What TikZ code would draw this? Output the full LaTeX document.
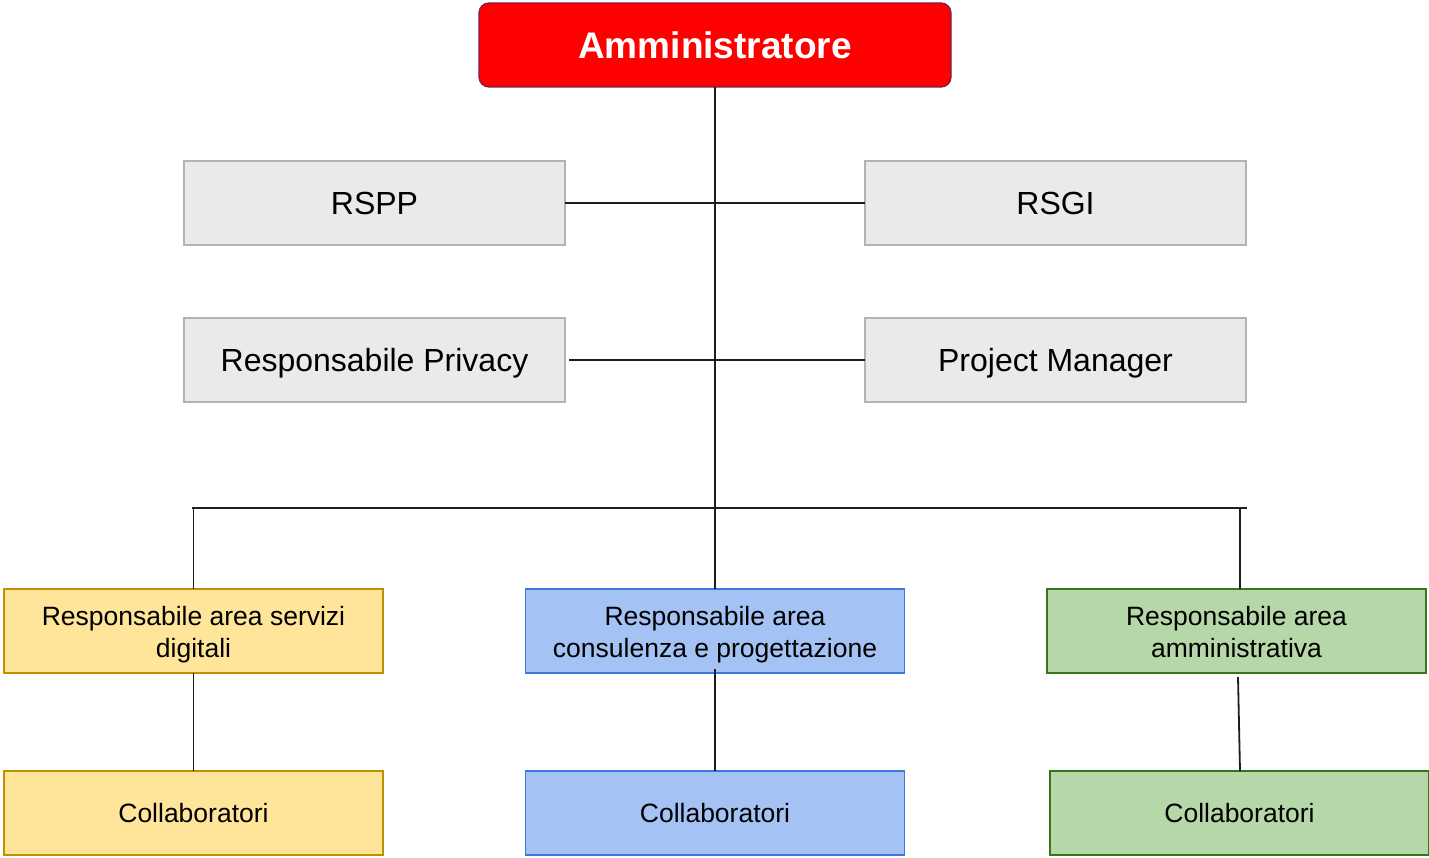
\documentclass[tikz,border=0pt]{standalone}
\usepackage{fontspec}
\setmainfont{Liberation Sans}
\begin{document}
\begin{tikzpicture}[x=1pt,y=-1pt,
  box/.style={draw, line width=1.3pt, inner sep=0pt, outer sep=0pt, minimum width=381pt, minimum height=84pt, align=center, text=black},
  graybox/.style={box, fill=grayfill, draw=grayline, font=\fontsize{32}{38}\selectfont, text height=22.9pt, text depth=0pt},
  areabox/.style={box, minimum width=379pt, font=\fontsize{26.5}{32}\selectfont},
  twoline/.style={text height=52pt, text depth=0pt},
  oneline/.style={text height=19pt, text depth=0pt},
  yel/.style={areabox, fill=yelfill, draw=yelline},
  blu/.style={areabox, fill=blufill, draw=bluline},
  grn/.style={areabox, fill=grnfill, draw=grnline},
  conn/.style={draw=linecol, line width=1.8pt}
]
\definecolor{grayfill}{HTML}{EAEAEA}
\definecolor{grayline}{HTML}{B3B3B3}
\definecolor{yelfill}{HTML}{FFE599}
\definecolor{yelline}{HTML}{BF9000}
\definecolor{blufill}{HTML}{A4C2F4}
\definecolor{bluline}{HTML}{3C78D8}
\definecolor{grnfill}{HTML}{B6D7A8}
\definecolor{grnline}{HTML}{38761D}
\definecolor{adminline}{HTML}{7A1F4A}
\definecolor{linecol}{HTML}{1E1E1E}
\useasboundingbox (0,0) rectangle (1429,858);

\node[box, fill=red, draw=adminline, rounded corners=10pt, minimum width=472pt, minimum height=84pt, text=white, font=\bfseries\fontsize{37}{44}\selectfont, text height=26.5pt, text depth=0pt] (admin) at (715,45) {Amministratore};

\node[graybox] (rspp) at (374.5,203) {RSPP};
\node[graybox] (rsgi) at (1055.5,203) {RSGI};
\node[graybox] (priv) at (374.5,360) {Responsabile Privacy};
\node[graybox] (pm) at (1055.5,360) {Project Manager};

\node[yel, twoline] (ry) at (193.5,631) {Responsabile area servizi\\digitali};
\node[blu, twoline] (rb) at (715,631) {Responsabile area\\consulenza e progettazione};
\node[grn, twoline] (rg) at (1236.5,631) {Responsabile area\\amministrativa};

\node[yel, oneline] (cy) at (193.5,813) {Collaboratori};
\node[blu, oneline] (cb) at (715,813) {Collaboratori};
\node[grn, oneline] (cg) at (1239.5,813) {Collaboratori};

\coordinate (busL) at (192,508);
\coordinate (busR) at (1247,508);
\coordinate (gtop) at (1240,508);
\coordinate (gmid) at (1238,677);

\draw[conn] (admin.south) -- (rb.north);
\draw[conn] (rspp.east) -- (rsgi.west);
\draw[conn] ([xshift=4pt]priv.east) -- (pm.west);
\draw[conn] (busL) -- (busR);
\draw[conn] (busL -| ry.north) -- (ry.north);
\draw[conn] (gtop) -- (gtop |- rg.north);
\draw[conn] (ry.south) -- (cy.north);
\draw[conn] ([yshift=4pt]rb.south) -- (cb.north);
\draw[conn] (gmid) -- (gtop |- cg.north);
\end{tikzpicture}
\end{document}
